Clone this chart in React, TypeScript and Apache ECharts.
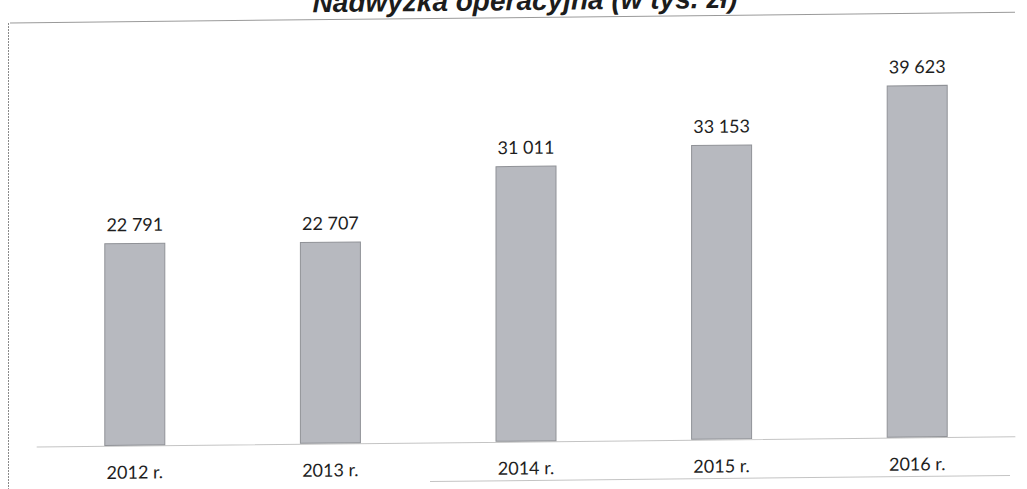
import React, { useEffect, useRef } from "react";
import * as echarts from "echarts";

const titleText = "Nadwyżka operacyjna (w tys. zł)";
const categories = ["2012 r.", "2013 r.", "2014 r.", "2015 r.", "2016 r."];
const values = [22791, 22707, 31011, 33153, 39623];
const yMax = 45000;

function fmt(v: number): string {
  return String(v).replace(/\B(?=(\d{3})+(?!\d))/g, " ");
}

export default function App() {
  const ref = useRef<HTMLDivElement>(null);
  useEffect(() => {
    if (!ref.current) return;
    const chart = echarts.init(ref.current, null, { renderer: "svg" });
    chart.setOption({
      animation: false,
      backgroundColor: "#ffffff",
      title: {
        text: titleText,
        left: 520,
        textAlign: "center",
        top: -13,
        textStyle: {
          fontFamily: "Liberation Sans",
          fontStyle: "italic",
          fontWeight: "bold",
          fontSize: 28,
          color: "#1c1c1c",
        },
      },
      grid: { left: 37, right: 12, top: 47, bottom: 42 },
      xAxis: {
        type: "category",
        data: categories,
        axisLine: { show: true, lineStyle: { color: "#c4c4c4", width: 1 } },
        axisTick: { show: false },
        axisLabel: {
          margin: 17,
          fontFamily: "Lato",
          fontSize: 18,
          color: "#1e1e1e",
        },
      },
      yAxis: {
        type: "value",
        min: 0,
        max: yMax,
        show: false,
        splitLine: { show: false },
      },
      series: [
        {
          type: "bar",
          data: values,
          barWidth: 61,
          itemStyle: {
            color: "#b7b9bf",
            borderColor: "#909297",
            borderWidth: 1,
          },
          label: {
            show: true,
            position: "top",
            distance: 10,
            fontFamily: "Lato",
            fontSize: 18,
            color: "#1e1e1e",
            formatter: (p: any) => fmt(p.value),
          },
        },
      ],
      graphic: [
        {
          type: "line",
          shape: { x1: 10, y1: 23, x2: 1015, y2: 23 },
          style: { stroke: "#9a9a9a", lineWidth: 1 },
          z: 0,
        },
        {
          type: "line",
          shape: { x1: 8.5, y1: 23, x2: 8.5, y2: 489 },
          style: { stroke: "#8a8a8a", lineWidth: 1, lineDash: [2, 1] },
        },
        {
          type: "line",
          shape: { x1: 430, y1: 486, x2: 1010, y2: 486 },
          style: { stroke: "#c4c4c4", lineWidth: 1 },
        },
      ],
    });
    return () => chart.dispose();
  }, []);
  return (
    <div
      ref={ref}
      style={{
        position: "absolute",
        left: 0,
        top: 0,
        width: 1027,
        height: 489,
        transform: "skewY(-0.6deg)",
        transformOrigin: "0 0",
      }}
    />
  );
}
